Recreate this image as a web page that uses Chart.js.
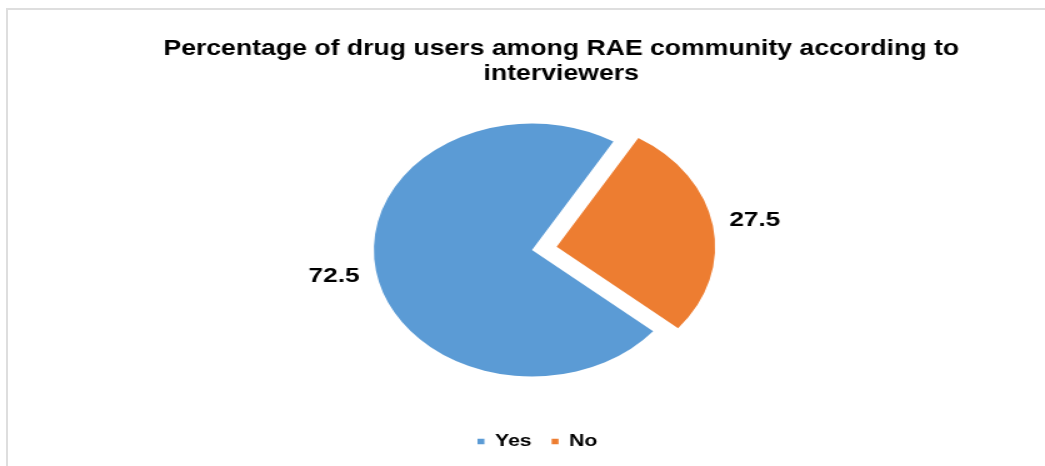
<!DOCTYPE html>
<html>
<head>
<meta charset="utf-8">
<script src="https://cdn.jsdelivr.net/npm/chart.js@4.4.1/dist/chart.umd.min.js"></script>
<style>
  html, body { margin: 0; padding: 0; background: #fff; overflow: hidden; }
  #page { position: relative; width: 1045px; height: 466px; overflow: hidden; background: #fff; }
  #frame { position: absolute; left: 6px; top: 8px; width: 1100px; height: 520px;
           border: 2px solid #dedede; box-sizing: border-box; }
  /* the drawing is stretched horizontally, text and pie alike */
  #wrap { position: absolute; left: 0; top: 0; width: 898px; height: 466px;
          transform: scaleX(1.25); transform-origin: 0 0; }
</style>
</head>
<body>
<div id="page">
  <div id="frame"></div>
  <div id="wrap"><canvas id="c" width="898" height="466"></canvas></div>
</div>
<script>
const categories = ['Yes', 'No'];
const shares = [72.5, 27.5];
const sliceColors = ['#5B9BD5', '#ED7D31'];
const titleLines = ['Percentage of drug users among RAE community according to', 'interviewers'];

const FONT = "'Liberation Sans', Arial, Helvetica, sans-serif";

// Fixes the pie centre, the title band and the legend row.
const placement = {
  id: 'placement',
  afterLayout(chart) {
    const cx = 425.6, cy = 250, half = 180;
    const a = chart.chartArea;
    a.left = cx - half; a.right = cx + half; a.width = 2 * half;
    a.top = cy - half; a.bottom = cy + half; a.height = 2 * half;

    const t = chart.titleBlock;
    const th = t.height;
    t.top = 0; t.bottom = th; t.left = 0; t.right = chart.width; t.width = chart.width;

    const lg = chart.legend;
    const lh = lg.height;
    lg.top = 417; lg.bottom = 417 + lh;
    const shift = 430 - (lg.left + lg.right) / 2;
    lg.left += shift; lg.right += shift;
  }
};

// Value labels just outside each slice.
const valueLabels = {
  id: 'valueLabels',
  afterDatasetsDraw(chart) {
    const ctx = chart.ctx;
    const meta = chart.getDatasetMeta(0);
    ctx.save();
    ctx.font = 'bold 21px ' + FONT;
    ctx.fillStyle = '#000';
    ctx.textAlign = 'center';
    ctx.textBaseline = 'middle';
    meta.data.forEach((arc, i) => {
      const mid = (arc.startAngle + arc.endAngle) / 2;
      const off = (arc.options.offset || 0) / 4;
      const circ = arc.endAngle - arc.startAngle;
      const push = off * (1 + (1 - Math.sin(Math.min(Math.PI, circ))));
      const dist = arc.outerRadius + 34 + push;
      const x = arc.x + Math.cos(mid) * dist;
      const y = arc.y + Math.sin(mid) * dist;
      ctx.fillText(String(chart.data.datasets[0].data[i]), x, y);
    });
    ctx.restore();
  }
};

new Chart(document.getElementById('c'), {
  type: 'pie',
  data: {
    labels: categories,
    datasets: [{
      data: shares,
      backgroundColor: sliceColors,
      borderWidth: 0,
      offset: [0, 80]
    }]
  },
  options: {
    responsive: false,
    animation: false,
    rotation: 130,
    radius: 126.5,
    events: [],
    plugins: {
      title: {
        display: true,
        text: titleLines,
        color: '#000',
        font: { family: FONT, size: 21.3, weight: 'bold', lineHeight: 24.5 / 21.3 },
        padding: { top: 37, bottom: 0 }
      },
      legend: {
        display: true,
        position: 'bottom',
        labels: {
          color: '#000',
          font: { family: FONT, size: 17, weight: 'bold' },
          boxWidth: 5.5,
          boxHeight: 5.5,
          padding: 16
        }
      },
      tooltip: { enabled: false }
    }
  },
  plugins: [placement, valueLabels]
});
</script>
</body>
</html>
